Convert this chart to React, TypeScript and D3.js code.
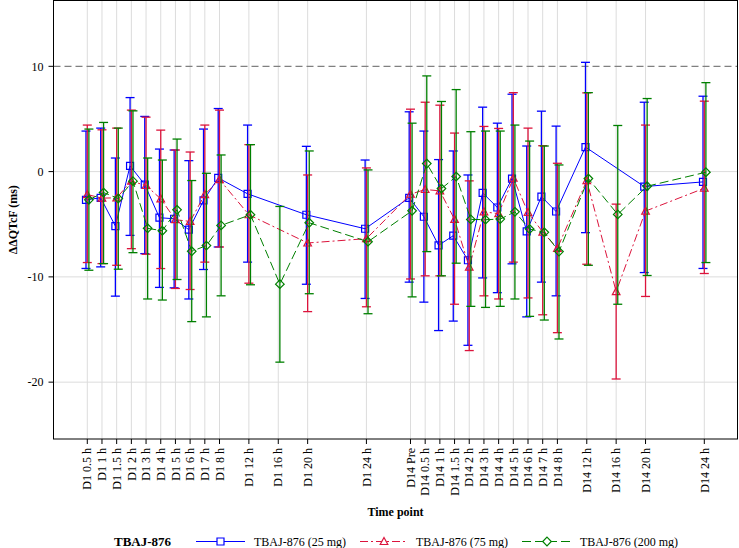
import React from 'react';
import * as d3 from 'd3';

// time points and their slot on the axis (gaps where the schedule is sparse)
const timeLabels = [
  'D1 0.5 h', 'D1 1 h', 'D1 1.5 h', 'D1 2 h', 'D1 3 h', 'D1 4 h', 'D1 5 h', 'D1 6 h', 'D1 7 h', 'D1 8 h',
  'D1 12 h', 'D1 16 h', 'D1 20 h', 'D1 24 h',
  'D14 Pre', 'D14 0.5 h', 'D14 1 h', 'D14 1.5 h', 'D14 2 h', 'D14 3 h', 'D14 4 h', 'D14 5 h', 'D14 6 h',
  'D14 7 h', 'D14 8 h', 'D14 12 h', 'D14 16 h', 'D14 20 h', 'D14 24 h',
];
const timeSlots = [0, 1, 2, 3, 4, 5, 6, 7, 8, 9, 11, 13, 15, 19, 22, 23, 24, 25, 26, 27, 28, 29, 30, 31, 32, 34, 36, 38, 42];

const yTicks = [-20, -10, 0, 10];

// TBAJ-876 (25 mg)
const mean25 = [-2.68, -2.49, -5.17, 0.54, -1.23, -4.38, -4.48, -5.52, -2.74, -0.6, -2.11, null, -4.1, -5.43,
  -2.49, -4.29, -7.0, -6.09, -8.42, -2.02, -3.41, -0.66, -5.68, -2.37, -3.79, 2.33, null, -1.42, -0.98];
const upper25 = [3.85, 4.13, 1.29, 7.03, 5.24, 2.14, 2.05, 1.04, 4.04, 5.99, 4.42, null, 2.4, 1.1,
  5.68, 3.85, 1.14, 1.96, -0.32, 6.12, 4.6, 7.35, 2.43, 5.74, 4.32, 10.38, null, 6.59, 7.16];
const lower25 = [-9.2, -9.05, -11.83, -6.06, -7.79, -11.0, -11.04, -12.1, -9.3, -7.16, -8.6, null, -10.7, -12.05,
  -10.5, -12.4, -15.1, -14.2, -16.5, -10.1, -11.5, -8.76, -13.8, -10.5, -11.8, -5.8, null, -9.59, -9.2];

// TBAJ-876 (75 mg)
const mean75 = [-2.18, -2.52, -2.49, -0.91, -1.32, -2.59, -4.57, -4.73, -2.18, -0.76, -4.1, null, -6.78, -6.37,
  -2.15, -1.7, -1.83, -4.54, -9.08, -3.82, -4.0, -0.63, -3.88, -5.74, -7.29, -0.85, -11.4, -3.75, -1.58];
const upper75 = [4.42, 3.97, 4.13, 5.84, 5.17, 3.94, 2.05, 1.86, 4.42, 5.84, 2.56, null, -0.32, 0.35,
  5.93, 6.59, 6.31, 3.66, -0.88, 4.29, 4.1, 7.5, 4.13, 2.46, 0.79, 7.48, -3.09, 4.42, 6.69];
const lower75 = [-8.64, -8.74, -8.9, -7.32, -7.85, -9.21, -11.1, -11.2, -8.6, -7.16, -10.6, null, -13.3, -12.84,
  -10.2, -9.9, -9.9, -12.6, -17.0, -11.8, -12.1, -8.6, -12.0, -13.6, -15.3, -8.8, -19.7, -11.86, -9.68];

// TBAJ-876 (200 mg)
const mean200 = [-2.68, -1.99, -2.56, -0.91, -5.39, -5.62, -3.63, -7.57, -7.03, -5.11, -4.1, -10.69, -4.86, -6.66,
  -3.72, 0.76, -1.61, -0.47, -4.54, -4.57, -4.51, -3.82, -5.46, -5.77, -7.6, -0.66, -4.07, -1.39, -0.06];
const upper200 = [4.04, 4.67, 4.13, 5.77, 1.29, 1.1, 3.09, -0.85, -0.16, 1.58, 2.56, -3.31, 1.96, 0.16,
  4.6, 9.09, 6.66, 7.79, 3.79, 3.85, 3.85, 4.42, 2.9, 2.43, 0.63, 7.5, 4.38, 6.94, 8.45];
const lower200 = [-9.37, -8.74, -9.27, -7.7, -12.1, -12.2, -10.25, -14.25, -13.8, -11.8, -10.75, -18.1, -11.6, -13.5,
  -11.9, -7.6, -9.9, -8.7, -12.8, -12.9, -12.8, -12.1, -13.75, -14.1, -15.9, -8.9, -12.6, -9.87, -8.64];

const series = [
  { name: 'TBAJ-876 (25 mg)', mean: mean25, upper: upper25, lower: lower25, color: '#0000ff', dash: null, symbol: 'square', shift: -1.3 },
  { name: 'TBAJ-876 (75 mg)', mean: mean75, upper: upper75, lower: lower75, color: '#dc143c', dash: '8,3,2,3', symbol: 'triangle', shift: 0 },
  { name: 'TBAJ-876 (200 mg)', mean: mean200, upper: upper200, lower: lower200, color: '#008000', dash: '9,4', symbol: 'diamond', shift: 1.6 },
];

const W = 739;
const H = 548;
const left = 53.5;
const right = 737.5;
const top = 0.5;
const bottom = 439;
const font = '"Liberation Serif", "Times New Roman", serif';

const x = d3.scaleLinear().domain([-2.3, 44.26]).range([left, right]);
const y = d3.scaleLinear().domain([-25.4, 16.3]).range([bottom, 0]);

const markerPath = (kind: string, cx: number, cy: number) => {
  if (kind === 'square') return `M${cx - 3.5},${cy - 3.5}h7v7h-7Z`;
  if (kind === 'triangle') return `M${cx},${cy - 4}L${cx + 3.8},${cy + 3}L${cx - 3.8},${cy + 3}Z`;
  return `M${cx},${cy - 4.3}L${cx + 4.3},${cy}L${cx},${cy + 4.3}L${cx - 4.3},${cy}Z`;
};

const App = () => {
  const legendItems = [
    { s: series[0], x1: 196, x2: 245, tx: 254 },
    { s: series[1], x1: 360, x2: 408, tx: 416 },
    { s: series[2], x1: 522, x2: 572, tx: 580 },
  ];
  const legendY = 541.5;

  return (
    <svg width={W} height={H} style={{ position: 'absolute', left: 0, top: 0, background: '#fff' }} fontFamily={font}>
      {/* grid */}
      {timeSlots.map((s, i) => (
        <line key={'vg' + i} x1={x(s)} x2={x(s)} y1={top} y2={bottom} stroke="#dcdcdc" strokeWidth={1} />
      ))}
      {yTicks.filter(t => t !== 10).map(t => (
        <line key={'hg' + t} x1={left} x2={right} y1={y(t)} y2={y(t)} stroke="#dcdcdc" strokeWidth={1} />
      ))}
      <line x1={left} x2={right} y1={y(10)} y2={y(10)} stroke="#808080" strokeWidth={1.2} strokeDasharray="7,4" />

      {/* series */}
      {series.map(s => {
        const pts = timeSlots
          .map((slot, i) => ({ slot, i, m: s.mean[i], u: s.upper[i], l: s.lower[i] }))
          .filter(p => p.m !== null);
        const line = d3.line<any>().x(p => x(p.slot) + s.shift).y(p => y(p.m));
        return (
          <g key={s.name}>
            {pts.map(p => {
              const cx = x(p.slot) + s.shift;
              return (
                <g key={p.i} stroke={s.color} strokeWidth={1.3}>
                  <line x1={cx} x2={cx} y1={y(p.u)} y2={y(p.l)} />
                  <line x1={cx - 4.5} x2={cx + 4.5} y1={y(p.u)} y2={y(p.u)} />
                  <line x1={cx - 4.5} x2={cx + 4.5} y1={y(p.l)} y2={y(p.l)} />
                </g>
              );
            })}
            <path d={line(pts) || ''} fill="none" stroke={s.color} strokeWidth={1} strokeDasharray={s.dash || undefined} />
            {pts.map(p => (
              <path key={'m' + p.i} d={markerPath(s.symbol, x(p.slot) + s.shift, y(p.m))} fill="none" stroke={s.color} strokeWidth={1.2} />
            ))}
          </g>
        );
      })}

      {/* frame */}
      <rect x={left} y={top} width={right - left} height={bottom - top} fill="none" stroke="#000" strokeWidth={1} />

      {/* y axis */}
      {yTicks.map(t => (
        <g key={'yt' + t}>
          <line x1={left - 5} x2={left} y1={y(t)} y2={y(t)} stroke="#000" />
          <text x={left - 10} y={y(t)} dy="0.35em" textAnchor="end" fontSize={12}>{t}</text>
        </g>
      ))}
      <text transform={`translate(17,${(top + bottom) / 2}) rotate(-90)`} textAnchor="middle" fontSize={12} fontWeight="bold">
        ΔΔQTcF (ms)
      </text>

      {/* x axis */}
      {timeSlots.map((s, i) => (
        <g key={'xt' + i}>
          <line x1={x(s)} x2={x(s)} y1={bottom} y2={bottom + 5} stroke="#000" />
          <text transform={`translate(${x(s)},${bottom + 9}) rotate(-90)`} dy="0.35em" textAnchor="end" fontSize={12}>
            {timeLabels[i]}
          </text>
        </g>
      ))}
      <text x={(left + right) / 2} y={516} textAnchor="middle" fontSize={12} fontWeight="bold">Time point</text>

      {/* legend */}
      <text x={114} y={legendY} dy="0.35em" fontSize={13} fontWeight="bold">TBAJ-876</text>
      {legendItems.map(({ s, x1, x2, tx }) => (
        <g key={'lg' + s.name}>
          <line x1={x1} x2={x2} y1={legendY} y2={legendY} stroke={s.color} strokeWidth={1.2} strokeDasharray={s.dash || undefined} />
          <path d={markerPath(s.symbol, (x1 + x2) / 2, legendY)} fill="#fff" stroke={s.color} strokeWidth={1.2} />
          <text x={tx} y={legendY} dy="0.35em" fontSize={12}>{s.name}</text>
        </g>
      ))}
    </svg>
  );
};

export default App;
